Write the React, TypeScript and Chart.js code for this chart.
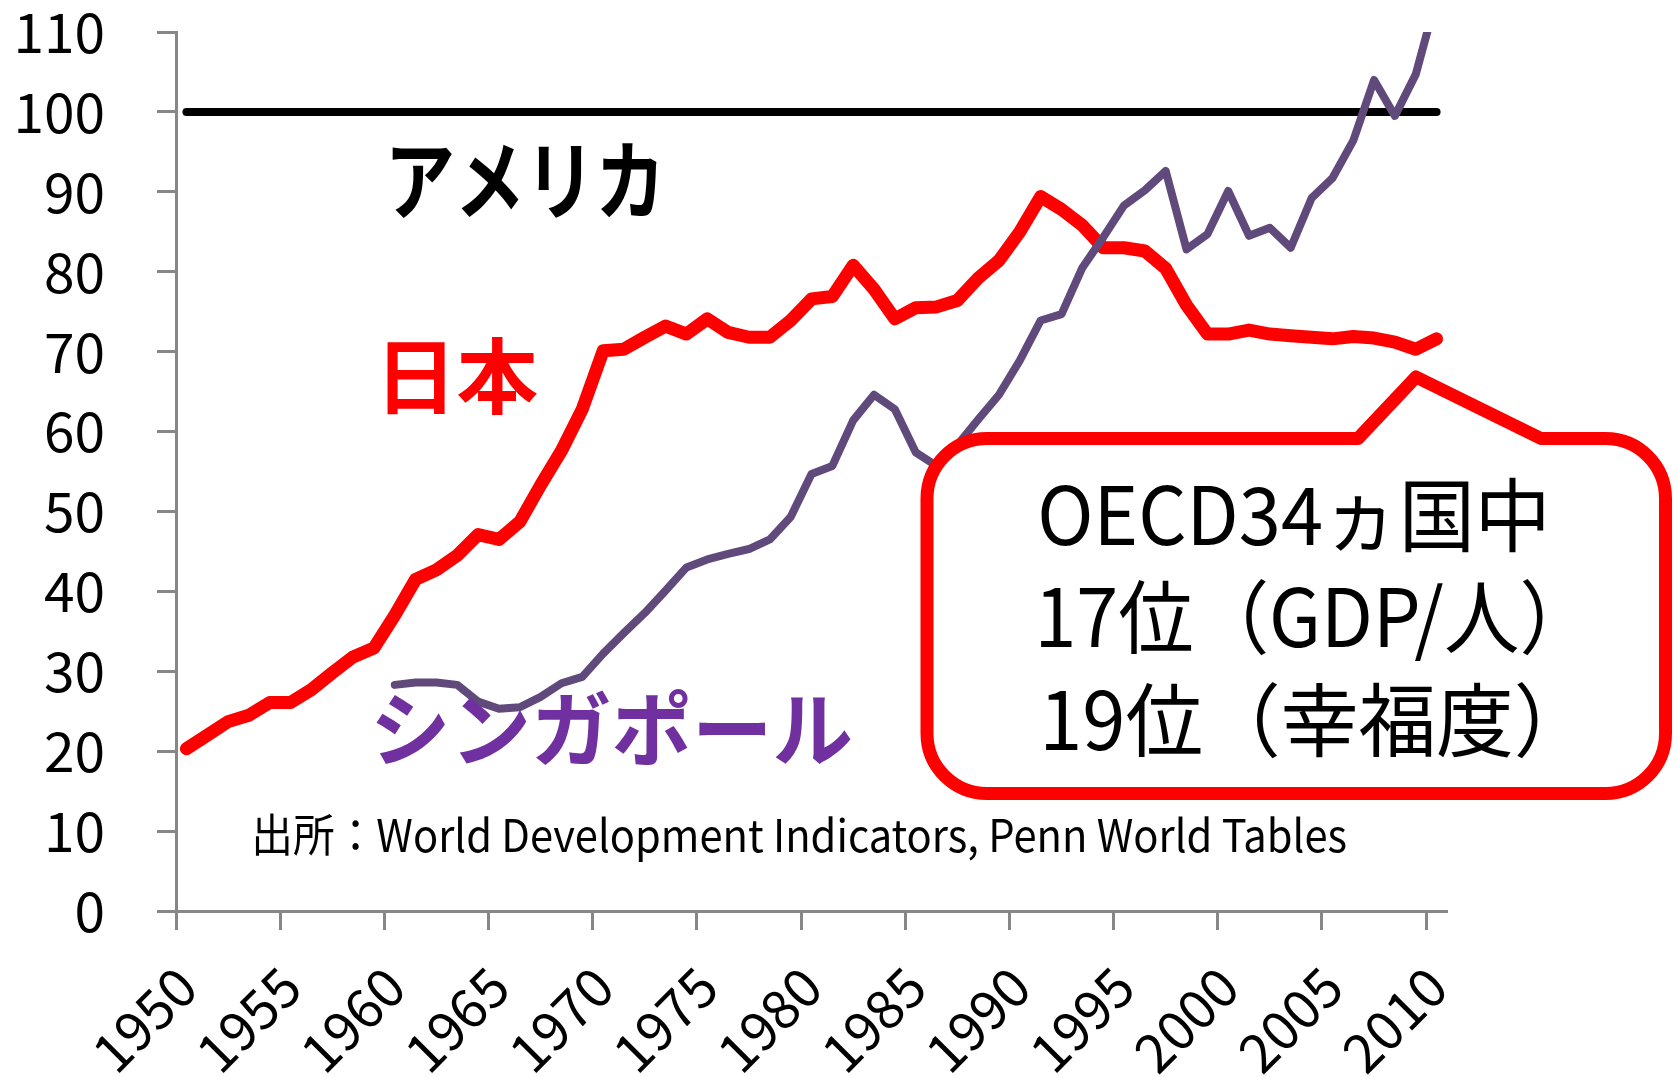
import React, { useEffect, useRef } from 'react';
import { Chart, registerables } from 'chart.js';

Chart.register(...registerables);

// ---------------- data ----------------
const years = [
  '1950', '1951', '1952', '1953', '1954', '1955', '1956', '1957', '1958', '1959',
  '1960', '1961', '1962', '1963', '1964', '1965', '1966', '1967', '1968', '1969',
  '1970', '1971', '1972', '1973', '1974', '1975', '1976', '1977', '1978', '1979',
  '1980', '1981', '1982', '1983', '1984', '1985', '1986', '1987', '1988', '1989',
  '1990', '1991', '1992', '1993', '1994', '1995', '1996', '1997', '1998', '1999',
  '2000', '2001', '2002', '2003', '2004', '2005', '2006', '2007', '2008', '2009',
  '2010',
];

// Japan, GDP per capita relative to USA (=100)
const japanValues = [
  20.3, 22.0, 23.7, 24.5, 26.1, 26.1, 27.7, 29.8, 31.8, 32.9,
  37.0, 41.5, 42.7, 44.5, 47.1, 46.5, 48.7, 53.3, 57.6, 62.8,
  70.1, 70.3, 71.8, 73.2, 72.2, 74.1, 72.4, 71.8, 71.8, 73.9,
  76.6, 76.9, 80.8, 77.8, 74.1, 75.5, 75.6, 76.4, 79.2, 81.4,
  85.0, 89.4, 87.8, 85.8, 83.0, 83.0, 82.6, 80.4, 75.8, 72.2,
  72.2, 72.7, 72.2, 72.0, 71.8, 71.6, 71.9, 71.7, 71.2, 70.3,
  71.6,
];

// Singapore, GDP per capita relative to USA (=100)
const singaporeValues = [
  null, null, null, null, null, null, null, null, null, null,
  28.3, 28.6, 28.6, 28.3, 26.2, 25.3, 25.5, 26.8, 28.5, 29.3,
  32.2, 34.8, 37.3, 40.1, 43.0, 44.0, 44.7, 45.3, 46.5, 49.3,
  54.7, 55.7, 61.4, 64.6, 62.8, 57.4, 55.7, 58.3, 61.5, 64.6,
  68.9, 73.9, 74.7, 80.5, 84.3, 88.3, 90.2, 92.6, 82.8, 84.7,
  90.1, 84.5, 85.5, 83.0, 89.2, 91.7, 96.4, 104.0, 99.5, 104.7,
  114.3,
];

// USA reference level
const usaLevel = 100;
const usaSpan = [years[0], years[years.length - 1]];

const yMin = 0;
const yMax = 110;
const yStep = 10;
const xLabelEvery = 5;

const usaLabel = 'アメリカ';
const japanLabel = '日本';
const singaporeLabel = 'シンガポール';
const sourceText = '出所：World Development Indicators, Penn World Tables';
const calloutLines = ['OECD34ヵ国中', '17位（GDP/人）', '19位（幸福度）'];

// ---------------- styling ----------------
const JP = 'Noto Sans CJK JP';
const AXIS_GRAY = '#878787';
const JAPAN_RED = '#FF0000';
const SG_PURPLE = '#604A7B';
const SG_TEXT = '#7030A0';

function fitInk(
  ctx: CanvasRenderingContext2D,
  text: string,
  weight: string,
  color: string,
  l: number,
  t: number,
  r: number,
  b: number
) {
  const base = 100;
  ctx.font = `${weight} ${base}px "${JP}"`;
  const m = ctx.measureText(text);
  const inkH = m.actualBoundingBoxAscent + m.actualBoundingBoxDescent;
  const size = (base * (b - t)) / inkH;
  ctx.font = `${weight} ${size}px "${JP}"`;
  const m2 = ctx.measureText(text);
  const inkW = m2.actualBoundingBoxLeft + m2.actualBoundingBoxRight;
  const sx = (r - l) / inkW;
  ctx.save();
  ctx.fillStyle = color;
  ctx.textAlign = 'left';
  ctx.textBaseline = 'alphabetic';
  ctx.translate(l, t + m2.actualBoundingBoxAscent);
  ctx.scale(sx, 1);
  ctx.fillText(text, m2.actualBoundingBoxLeft, 0);
  ctx.restore();
}

function fitBaseline(
  ctx: CanvasRenderingContext2D,
  text: string,
  font: string,
  color: string,
  l: number,
  r: number,
  baseline: number
) {
  ctx.font = font;
  const m = ctx.measureText(text);
  const inkW = m.actualBoundingBoxLeft + m.actualBoundingBoxRight;
  const sx = (r - l) / inkW;
  ctx.save();
  ctx.fillStyle = color;
  ctx.textAlign = 'left';
  ctx.textBaseline = 'alphabetic';
  ctx.translate(l, baseline);
  ctx.scale(sx, 1);
  ctx.fillText(text, m.actualBoundingBoxLeft, 0);
  ctx.restore();
}

function drawCallout(ctx: CanvasRenderingContext2D) {
  const L = 927;
  const T = 438.5;
  const R = 1665.5;
  const B = 793.5;
  const rad = 60;
  ctx.save();
  ctx.beginPath();
  ctx.moveTo(L + rad, T);
  ctx.lineTo(1358, T);
  ctx.lineTo(1416, 377);
  ctx.lineTo(1541, T);
  ctx.lineTo(R - rad, T);
  ctx.arcTo(R, T, R, T + rad, rad);
  ctx.lineTo(R, B - rad);
  ctx.arcTo(R, B, R - rad, B, rad);
  ctx.lineTo(L + rad, B);
  ctx.arcTo(L, B, L, B - rad, rad);
  ctx.lineTo(L, T + rad);
  ctx.arcTo(L, T, L + rad, T, rad);
  ctx.closePath();
  ctx.fillStyle = '#FFFFFF';
  ctx.fill();
  ctx.lineWidth = 13;
  ctx.lineJoin = 'round';
  ctx.strokeStyle = JAPAN_RED;
  ctx.stroke();
  ctx.restore();

  const font = `400 80px "${JP}"`;
  fitBaseline(ctx, calloutLines[0], font, '#000', 1041, 1544, 545);
  fitBaseline(ctx, calloutLines[1], font, '#000', 1041, 1543, 647);
  fitBaseline(ctx, calloutLines[2], font, '#000', 1046, 1538, 750);
}

const annotationPlugin = {
  id: 'textAnnotations',
  afterDraw(chart: Chart) {
    const ctx = chart.ctx;
    ctx.save();
    drawCallout(ctx);
    fitInk(ctx, usaLabel, '700', '#000000', 392, 143, 657, 219);
    fitInk(ctx, japanLabel, '700', JAPAN_RED, 387, 337, 538, 415);
    fitInk(ctx, singaporeLabel, '700', SG_TEXT, 376, 688, 851, 765);
    fitBaseline(ctx, sourceText, `400 45px "${JP}"`, '#000', 256, 1346, 852);
    ctx.restore();
  },
};

export default function App() {
  const ref = useRef<HTMLCanvasElement>(null);

  useEffect(() => {
    const canvas = ref.current;
    if (!canvas) return;
    const chart = new Chart(canvas, {
      type: 'line',
      data: {
        labels: years,
        datasets: [
          {
            label: 'シンガポール',
            data: singaporeValues,
            borderColor: SG_PURPLE,
            borderWidth: 8,
            pointRadius: 0,
            borderJoinStyle: 'round',
            borderCapStyle: 'round',
            tension: 0,
            spanGaps: false,
            clip: 0,
            order: 1,
          },
          {
            label: '日本',
            data: japanValues,
            borderColor: JAPAN_RED,
            borderWidth: 13,
            pointRadius: 0,
            borderJoinStyle: 'round',
            borderCapStyle: 'round',
            tension: 0,
            order: 2,
          },
          {
            label: 'アメリカ',
            data: usaSpan.map((yr) => ({ x: yr, y: usaLevel })),
            borderColor: '#000000',
            borderWidth: 8,
            pointRadius: 0,
            borderCapStyle: 'round',
            tension: 0,
            order: 3,
          },
        ],
      },
      options: {
        responsive: false,
        maintainAspectRatio: false,
        animation: false,
        devicePixelRatio: 1,
        layout: { padding: { left: 0, top: 32, right: 231, bottom: 0 } },
        plugins: {
          legend: { display: false },
          tooltip: { enabled: false },
          title: { display: false },
        },
        scales: {
          x: {
            type: 'category',
            offset: true,
            grid: {
              offset: true,
              drawOnChartArea: false,
              drawTicks: true,
              tickLength: 19,
              tickWidth: 3,
              color: 'rgba(0,0,0,0)',
              tickColor: (c: any) =>
                c.index !== undefined && c.index % xLabelEvery === 0 ? AXIS_GRAY : 'rgba(0,0,0,0)',
            },
            border: { display: true, color: AXIS_GRAY, width: 3 },
            ticks: {
              autoSkip: false,
              minRotation: 45,
              maxRotation: 45,
              padding: 24,
              color: '#000',
              font: { family: JP, size: 54, lineHeight: 1.2 },
              callback: (_v: any, i: number) =>
                Number(years[i]) % xLabelEvery === 0 ? years[i] : '',
            },
            afterFit: (s: any) => {
              s.height = 166;
              s.paddingLeft = 0;
              s.paddingRight = 0;
            },
          },
          y: {
            min: yMin,
            max: yMax,
            grid: {
              drawOnChartArea: false,
              drawTicks: true,
              tickLength: 19,
              tickWidth: 3,
              tickColor: AXIS_GRAY,
            },
            border: { display: true, color: AXIS_GRAY, width: 3 },
            ticks: {
              stepSize: yStep,
              padding: 52,
              color: '#000',
              font: { family: JP, size: 55, lineHeight: 1 },
            },
            afterFit: (s: any) => {
              s.width = 176;
              s.paddingTop = 0;
              s.paddingBottom = 0;
            },
          },
        },
      },
      plugins: [annotationPlugin],
    } as any);

    let alive = true;
    if ((document as any).fonts && (document as any).fonts.ready) {
      (document as any).fonts.ready.then(() => {
        if (alive) chart.draw();
      });
    }
    return () => {
      alive = false;
      chart.destroy();
    };
  }, []);

  return (
    <div
      style={{
        position: 'fixed',
        left: 0,
        top: 0,
        width: 1678,
        height: 1077,
        background: '#ffffff',
        overflow: 'hidden',
      }}
    >
      <canvas ref={ref} width={1678} height={1077} style={{ display: 'block', width: 1678, height: 1077 }} />
    </div>
  );
}
